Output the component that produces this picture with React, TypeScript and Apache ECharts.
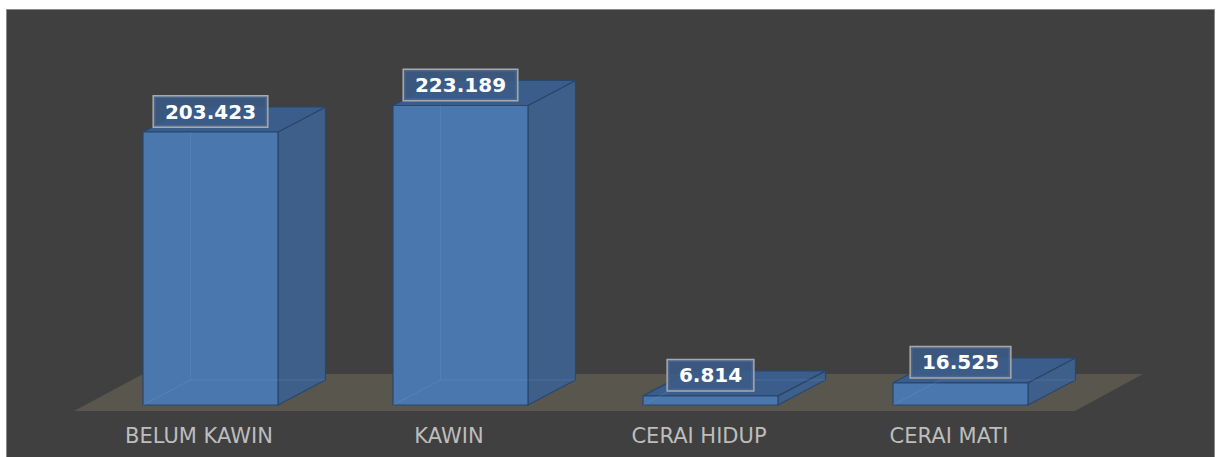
import React, { useEffect, useRef } from "react";
import * as echarts from "echarts";

const categories = ["BELUM KAWIN", "KAWIN", "CERAI HIDUP", "CERAI MATI"];
const values = [203423, 223189, 6814, 16525];
const valueMax = 250000;

const fmt = (v: number) => v.toLocaleString("de-DE");

export default function App() {
  const ref = useRef<HTMLDivElement>(null);
  useEffect(() => {
    if (!ref.current) return;
    const chart = echarts.init(ref.current, null, { renderer: "svg" });
    const option: any = {
      animation: false,
      backgroundColor: "#ffffff",
      graphic: [
        {
          type: "rect",
          z: -10,
          shape: { x: 6.5, y: 9.5, width: 1208, height: 460 },
          style: { fill: "#404040", stroke: "#8a8a8a", lineWidth: 1 },
        },
        {
          type: "polygon",
          z: -5,
          shape: { points: [[74, 411], [1075, 411], [1143, 374], [143, 374]] },
          style: { fill: "#59564e" },
        },
      ],
      grid: { left: 85.5, width: 1000, top: 69.5, height: 335.5 },
      xAxis: {
        type: "category",
        data: categories,
        axisLine: { show: false },
        axisTick: { show: false },
        axisLabel: {
          color: "#bdbdbd",
          fontSize: 21,
          fontFamily: "DejaVu Sans",
          margin: 20,
          padding: [0, 23, 0, 0],
        },
      },
      yAxis: { type: "value", min: 0, max: valueMax, show: false, splitLine: { show: false } },
      series: [
        {
          type: "custom",
          encode: { x: 0, y: 1 },
          data: values.map((v, i) => [i, v]),
          renderItem: (params: any, api: any) => {
            const i = api.value(0);
            const v = api.value(1);
            const top = api.coord([i, v]);
            const base = api.coord([i, 0]);
            const bw = api.size([1, 0])[0];
            const w = bw * 0.54;
            const dx = bw * 0.19;
            const dy = bw * 0.1;
            const x0 = base[0] - w / 2;
            const x1 = base[0] + w / 2;
            const yb = base[1];
            const yt = top[1];
            const edge = "#29466c";
            return {
              type: "group",
              children: [
                {
                  type: "polygon",
                  shape: { points: [[x1, yb], [x1 + dx, yb - dy], [x1 + dx, yt - dy], [x1, yt]] },
                  style: { fill: "#3d5f8a", stroke: edge, lineWidth: 1.2 },
                },
                {
                  type: "polygon",
                  shape: { points: [[x0, yt], [x1, yt], [x1 + dx, yt - dy], [x0 + dx, yt - dy]] },
                  style: { fill: "#3b5d8b", stroke: edge, lineWidth: 1.2 },
                },
                {
                  type: "rect",
                  shape: { x: x0, y: yt, width: w, height: yb - yt },
                  style: { fill: "#4a78ae", stroke: edge, lineWidth: 1.2 },
                },
                {
                  type: "polyline",
                  shape: { points: [[x0, yb], [x0 + dx, yb - dy], [x1 + dx, yb - dy]] },
                  style: { stroke: "rgba(110,160,220,0.25)", lineWidth: 1, fill: null },
                },
                {
                  type: "line",
                  shape: { x1: x0 + dx, y1: yb - dy, x2: x0 + dx, y2: Math.min(yb - dy, yt) },
                  style: { stroke: "rgba(110,160,220,0.2)", lineWidth: 1 },
                },
                {
                  type: "text",
                  x: base[0],
                  y: yt - 20.5,
                  style: {
                    text: fmt(v),
                    fill: "#ffffff",
                    font: "bold 20px 'DejaVu Sans'",
                    align: "center",
                    verticalAlign: "middle",
                    backgroundColor: "rgba(60,92,136,0.85)",
                    borderColor: "#a9a9a9",
                    borderWidth: 1.5,
                    padding: [5, 11, 5, 11],
                  },
                },
              ],
            };
          },
        },
      ],
    };
    chart.setOption(option);
    return () => chart.dispose();
  }, []);
  return (
    <div
      ref={ref}
      style={{ position: "fixed", left: 0, top: 0, width: 1216, height: 457 }}
    />
  );
}
